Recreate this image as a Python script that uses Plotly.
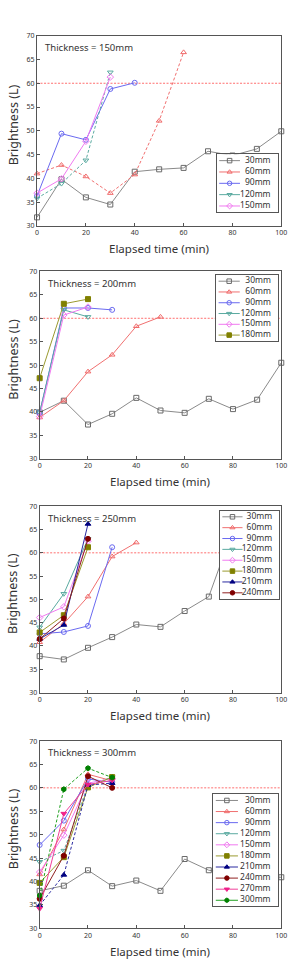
import plotly.graph_objects as go

# ---------------- data ----------------
TIME = [0, 10, 20, 30, 40, 50, 60, 70, 80, 90, 100]
THRESHOLD = 60
X_RANGE = [0, 100]
Y_RANGE = [30, 70]
X_TICKS = [0, 20, 40, 60, 80, 100]
Y_TICKS = [30, 35, 40, 45, 50, 55, 60, 65, 70]
PANEL_TITLES = ["Thickness = 150mm", "Thickness = 200mm", "Thickness = 250mm", "Thickness = 300mm"]
X_TITLE = "Elapsed time (min)"
Y_TITLE = "Brightness (L)"

# Thickness = 150mm
T150_30 = [31.8, 39.8, 36.0, 34.5, 41.4, 41.9, 42.2, 45.7, 44.8, 46.2, 49.9]
T150_60 = [41.0, 42.8, 40.4, 36.9, 40.8, 52.1, 66.5]
T150_90 = [36.3, 49.4, 48.1, 58.8, 60.1]
T150_120 = [35.8, 38.9, 43.8, 62.3]
T150_150 = [36.9, 39.9, 47.8, 61.3]

# Thickness = 200mm
T200_30 = [39.9, 42.4, 37.3, 39.6, 43.0, 40.3, 39.8, 42.8, 40.6, 42.6, 50.5]
T200_60 = [38.8, 42.4, 48.6, 52.2, 58.3, 60.3]
T200_90 = [39.8, 62.2, 62.2, 61.8]
T200_120 = [39.9, 61.8, 60.3]
T200_150 = [39.0, 60.7, 62.4]
T200_180 = [47.2, 63.1, 64.1]

# Thickness = 250mm
T250_30 = [37.8, 37.1, 39.6, 41.9, 44.6, 44.1, 47.5, 50.6, 65.0]
T250_60 = [40.8, 44.8, 50.6, 59.2, 62.2]
T250_90 = [42.6, 43.0, 44.3, 61.2]
T250_120 = [44.0, 51.2, 63.0]
T250_150 = [46.1, 48.4, 62.5]
T250_180 = [42.9, 46.6, 61.2]
T250_210 = [41.5, 44.5, 66.2]
T250_240 = [41.5, 45.9, 63.0]

# Thickness = 300mm
T300_30 = [38.0, 39.1, 42.4, 39.0, 40.2, 38.0, 44.8, 42.4, 41.7, 40.9, 40.9]
T300_60 = [41.5, 51.1, 62.9, 61.5]
T300_90 = [47.8, 53.0, 61.9, 61.2]
T300_120 = [44.2, 46.6, 60.5, 62.3]
T300_150 = [42.0, 49.9, 61.0, 62.0]
T300_180 = [39.7, 45.2, 60.1, 62.3]
T300_210 = [34.9, 41.4, 60.6, 61.0]
T300_240 = [36.3, 45.5, 62.5, 60.0]
T300_270 = [34.2, 54.5, 60.7, 61.6]
T300_300 = [37.0, 59.7, 64.2, 62.2]

PANELS = [
    [("30mm", T150_30), ("60mm", T150_60), ("90mm", T150_90), ("120mm", T150_120), ("150mm", T150_150)],
    [("30mm", T200_30), ("60mm", T200_60), ("90mm", T200_90), ("120mm", T200_120), ("150mm", T200_150),
     ("180mm", T200_180)],
    [("30mm", T250_30), ("60mm", T250_60), ("90mm", T250_90), ("120mm", T250_120), ("150mm", T250_150),
     ("180mm", T250_180), ("210mm", T250_210), ("240mm", T250_240)],
    [("30mm", T300_30), ("60mm", T300_60), ("90mm", T300_90), ("120mm", T300_120), ("150mm", T300_150),
     ("180mm", T300_180), ("210mm", T300_210), ("240mm", T300_240), ("270mm", T300_270), ("300mm", T300_300)],
]

# ---------------- styles ----------------
STYLE = {
    "30mm": dict(symbol="square-open", color="#6a6a6a", line="#8a8a8a"),
    "60mm": dict(symbol="triangle-up-open", color="#f06a6a", line="#f07070"),
    "90mm": dict(symbol="circle-open", color="#6a6af0", line="#6a6af0"),
    "120mm": dict(symbol="triangle-down-open", color="#5aaaa0", line="#5aaaa0"),
    "150mm": dict(symbol="diamond-open", color="#f07af0", line="#f07af0"),
    "180mm": dict(symbol="square", color="#808000", line="#9a9a30"),
    "210mm": dict(symbol="triangle-up", color="#000080", line="#2a2aa0"),
    "240mm": dict(symbol="circle", color="#800000", line="#902020"),
    "270mm": dict(symbol="triangle-down", color="#f0208a", line="#f0409a"),
    "300mm": dict(symbol="hexagon", color="#008000", line="#20a020"),
}
DASHED = {(0, "60mm"), (0, "120mm"), (3, "300mm"), (3, "210mm"), (3, "120mm")}

W, H = 298, 962
# plot areas in pixels: (left, right, top, bottom)
AREAS = [(36, 287, 31, 223), (38.7, 287, 269, 458), (38.7, 287, 506, 694), (38.7, 287, 743, 932)]
# legend boxes in pixels
LEG = [(220.7, 283.5, 150.7, 209.3), (220, 284, 272.7, 339.3), (224, 285, 510.5, 599.5), (217, 284, 796.7, 910)]

FONT = "Noto Sans"
AX_COL = "#555555"
TXT_COL = "#333333"

fig = go.Figure()
layout = dict(width=W, height=H, margin=dict(l=0, r=0, t=0, b=0), paper_bgcolor="white",
              plot_bgcolor="white", showlegend=False, font=dict(family=FONT, color=TXT_COL))
shapes, annotations = [], []

for p, series in enumerate(PANELS):
    n = p + 1
    xa, ya = ("x" if n == 1 else f"x{n}"), ("y" if n == 1 else f"y{n}")
    l, r, t, b = AREAS[p]
    layout[f"xaxis{n}" if n > 1 else "xaxis"] = dict(
        domain=[l / W, r / W], range=X_RANGE, tickvals=X_TICKS, ticks="inside", ticklen=3,
        tickcolor=AX_COL, showline=True, mirror=True, linecolor=AX_COL, linewidth=1,
        showgrid=False, zeroline=False, anchor=ya, tickfont=dict(size=7, color=TXT_COL), fixedrange=True)
    layout[f"yaxis{n}" if n > 1 else "yaxis"] = dict(
        domain=[1 - b / H, 1 - t / H], range=Y_RANGE, tickvals=Y_TICKS, ticks="inside", ticklen=3,
        tickcolor=AX_COL, showline=True, mirror=True, linecolor=AX_COL, linewidth=1,
        showgrid=False, zeroline=False, anchor=xa, tickfont=dict(size=7, color=TXT_COL), fixedrange=True)
    hpx = b - t
    annotations.append(dict(text=X_TITLE, xref=f"{xa} domain", yref=f"{ya} domain", x=0.5,
                            y=-23 / hpx, xanchor="center", yanchor="middle", showarrow=False,
                            font=dict(size=11.5, color=TXT_COL)))
    annotations.append(dict(text=Y_TITLE, xref="paper", yref=f"{ya} domain", x=11.5 / W,
                            y=0.53, xanchor="center", yanchor="middle", textangle=-90, showarrow=False,
                            font=dict(size=12.5, color=TXT_COL)))
    annotations.append(dict(text=PANEL_TITLES[p], xref=f"{xa} domain", yref=f"{ya} domain",
                            x=0.025, y=1 - 12 / hpx, xanchor="left", yanchor="middle", showarrow=False,
                            font=dict(size=9.5, color=TXT_COL)))
    shapes.append(dict(type="line", xref=xa, yref=ya, x0=X_RANGE[0], x1=X_RANGE[1], y0=THRESHOLD,
                       y1=THRESHOLD, layer="below", line=dict(color="#ff4a4a", width=0.8, dash="2px,1.5px")))

    for name, vals in series:
        st = STYLE[name]
        fig.add_trace(go.Scatter(
            x=TIME[:len(vals)], y=vals, mode="lines+markers", name=name, xaxis=xa, yaxis=ya,
            cliponaxis=False,
            line=dict(color=st["line"], width=1, dash="3px,2px" if (p, name) in DASHED else "solid"),
            marker=dict(symbol=st["symbol"], size=5, color=st["color"],
                        line=dict(color=st["color"], width=1))))

    # ----- legend drawn in its own small subplot -----
    m = p + 5
    lxa, lya = f"x{m}", f"y{m}"
    ll, lr, lt, lb = LEG[p]
    k = len(series)
    layout[f"xaxis{m}"] = dict(domain=[ll / W, lr / W], range=[0, 1], showline=True, mirror=True,
                               linecolor=AX_COL, linewidth=1, showgrid=False, zeroline=False,
                               showticklabels=False, ticks="", anchor=lya, fixedrange=True)
    layout[f"yaxis{m}"] = dict(domain=[1 - lb / H, 1 - lt / H], range=[-(k - 1) - 0.56, 0.56],
                               showline=True, mirror=True, linecolor=AX_COL, linewidth=1,
                               showgrid=False, zeroline=False, showticklabels=False, ticks="",
                               anchor=lxa, fixedrange=True)
    for i, (name, vals) in enumerate(series):
        st = STYLE[name]
        fig.add_trace(go.Scatter(x=[0.04, 0.38], y=[-i, -i], mode="lines", xaxis=lxa, yaxis=lya,
                                 line=dict(color=st["line"], width=1), hoverinfo="skip"))
        fig.add_trace(go.Scatter(x=[0.21], y=[-i], mode="markers", xaxis=lxa, yaxis=lya, cliponaxis=False,
                                 marker=dict(symbol=st["symbol"], size=4.5, color=st["color"],
                                             line=dict(color=st["color"], width=1)), hoverinfo="skip"))
    fig.add_trace(go.Scatter(x=[0.88] * k, y=[-i for i in range(k)], mode="text",
                             text=[s[0] for s in series], textposition="middle left", cliponaxis=False,
                             xaxis=lxa, yaxis=lya, textfont=dict(size=8.5, color=TXT_COL), hoverinfo="skip"))

layout["shapes"] = shapes
layout["annotations"] = annotations
fig.update_layout(**layout)
fig.write_html("out.html")
